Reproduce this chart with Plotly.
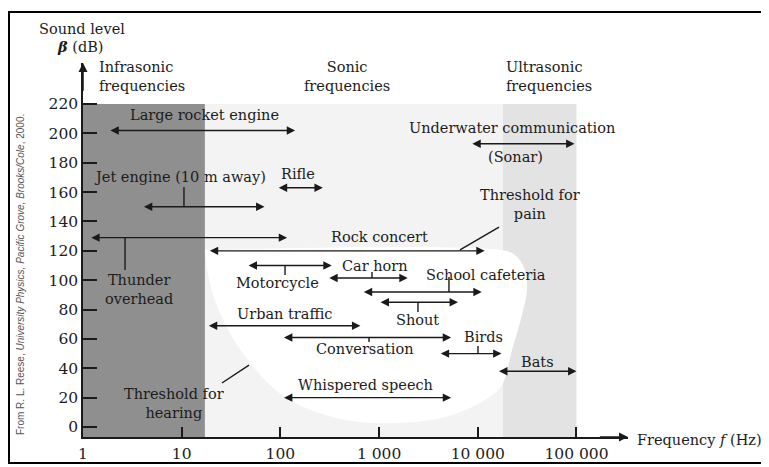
import numpy as np
import plotly.graph_objects as go

# ---------------- data ----------------
sources = ["Large rocket engine", "Jet engine (10 m away)", "Rifle", "Thunder overhead",
           "Rock concert", "Motorcycle", "Car horn", "School cafeteria", "Shout",
           "Urban traffic", "Conversation", "Birds", "Bats", "Whispered speech",
           "Underwater communication (Sonar)"]
f_low = [1.83, 4.0, 93, 1.17, 18.6, 46, 302, 676, 1000, 18.2, 105, 4070, 15850, 105, 8500]
f_high = [141, 69, 269, 117, 11750, 331, 1950, 10960, 6300, 646, 5370, 17400, 100000, 5370, 95500]
level_db = [202, 150, 163, 129, 120, 110, 101.5, 92, 85, 69, 61, 50, 38, 20, 193]

# frequency bands (Hz)
infrasonic_max = 17.2
sonic_max = 18000
ultrasonic_max = 100000
band_top_db = 220

# region of audible sound (threshold of hearing / threshold of pain)
hearing_f = [17.2, 19.0, 23.5, 32, 47, 78.5, 140.6, 451, 1449, 4656, 11830, 17580, 22230,
             28050, 31480, 30060, 23820, 16790, 17.2]
hearing_db = [119.2, 100, 80, 62, 45.6, 28.6, 16.3, 4.8, 2.7, 6.8, 18.4, 28.6, 52.5,
              76.3, 93.3, 107, 117.2, 120.6, 120.6]

x_tick_vals = [1, 10, 100, 1000, 10000, 100000]
x_tick_text = ["1", "10", "100", "1 000", "10 000", "100 000"]
y_tick_vals = list(range(0, 221, 20))

# ---------------- styling ----------------
FONT = "DejaVu Serif"
TXT = "#1c1c1c"
LINE = "#1a1a1a"
FS = 14.5
TFS = 15.5

lg = np.log10
XMAX = 5.522
YMIN, YMAX = -6.81, 247.96

fig = go.Figure()

# audible region (white blob)
fig.add_trace(go.Scatter(x=lg(hearing_f), y=hearing_db, mode="lines", fill="toself",
                         fillcolor="white", line=dict(width=0, color="white", shape="spline"),
                         hoverinfo="skip", showlegend=False))

shapes = []
# band backgrounds
shapes.append(dict(type="rect", xref="x", yref="y", x0=0, x1=lg(infrasonic_max), y0=YMIN,
                   y1=band_top_db, fillcolor="#8f8f8f", line=dict(width=0), layer="below"))
shapes.append(dict(type="rect", xref="x", yref="y", x0=lg(infrasonic_max), x1=lg(sonic_max),
                   y0=YMIN, y1=band_top_db, fillcolor="#f3f3f3", line=dict(width=0), layer="below"))
shapes.append(dict(type="rect", xref="x", yref="y", x0=lg(sonic_max), x1=lg(ultrasonic_max),
                   y0=YMIN, y1=band_top_db, fillcolor="#e3e3e3", line=dict(width=0), layer="below"))

# small connector lines from labels to arrows (log f, dB)
connectors = [
    (1.023, 163.5, 1.023, 150),   # jet
    (0.426, 128.7, 0.426, 107),   # thunder
    (2.047, 110, 2.047, 103.5),   # motorcycle
    (2.928, 101.5, 2.928, 105.6), # car horn
    (3.708, 92, 3.708, 102.2),    # school
    (3.394, 85, 3.394, 78.3),     # shout
    (2.898, 61, 2.898, 57.9),     # conversation
    (4.002, 50, 4.002, 55.2),     # birds
    (3.820, 120.6, 4.215, 136.2), # threshold of pain pointer
    (1.408, 30.0, 1.682, 42.2),   # threshold of hearing pointer
]
for x0, y0, x1, y1 in connectors:
    shapes.append(dict(type="line", xref="x", yref="y", x0=x0, y0=y0, x1=x1, y1=y1,
                       line=dict(color=LINE, width=1.4)))

# outer frame
shapes.append(dict(type="rect", xref="paper", yref="paper", x0=-0.1358, x1=1.2495,
                   y0=-0.0695, y1=1.1364, line=dict(color="black", width=2),
                   fillcolor="rgba(0,0,0,0)"))

annotations = []
# double-headed arrows for the sources
for lo, hi, db in zip(f_low, f_high, level_db):
    annotations.append(dict(x=lg(hi), y=db, ax=lg(lo), ay=db, xref="x", yref="y",
                            axref="x", ayref="y", text="", showarrow=True,
                            arrowside="end+start", arrowhead=2, arrowsize=1.2,
                            arrowwidth=1.4, arrowcolor=LINE, standoff=0, startstandoff=0))

# axis arrowheads
annotations.append(dict(x=XMAX, y=YMIN, ax=XMAX - 0.3, ay=YMIN, xref="x", yref="y",
                        axref="x", ayref="y", text="", showarrow=True, arrowhead=2,
                        arrowsize=1.2, arrowwidth=1.5, arrowcolor=LINE))
annotations.append(dict(x=0, y=YMAX, ax=0, ay=YMAX - 20, xref="x", yref="y",
                        axref="x", ayref="y", text="", showarrow=True, arrowhead=2,
                        arrowsize=1.2, arrowwidth=1.5, arrowcolor=LINE))

def label(text, x, y, xanchor="center", align="center", size=FS):
    annotations.append(dict(x=x, y=y, xref="x", yref="y", text=text, showarrow=False,
                            xanchor=xanchor, yanchor="middle", align=align,
                            font=dict(family=FONT, size=size, color=TXT)))

label("Large rocket engine", 1.236, 212.5)
label("Jet engine (10 m away)", 0.983, 170.3)
label("Rifle", 2.178, 172.3)
label("Thunder<br>overhead", 0.567, 94)
label("Rock concert", 3.009, 129.4)
label("Threshold for<br>pain", 4.529, 151.9)
label("Motorcycle", 1.966, 98.1)
label("Car horn", 2.958, 109.7)
label("School cafeteria", 4.083, 103.5)
label("Shout", 3.394, 72.9)
label("Urban traffic", 2.047, 77)
label("Conversation", 2.857, 53.1)
label("Birds", 4.053, 61.3)
label("Bats", 4.610, 44.3)
label("Whispered speech", 2.867, 28.6)
label("Underwater communication", 4.347, 203.7)
label("(Sonar)", 4.387, 183.9)
label("Threshold for<br>hearing", 0.922, 15.7)
label("Infrasonic<br>frequencies", 0.142, 239, xanchor="left", align="left")
label("Sonic<br>frequencies", 2.675, 239)
label("Ultrasonic<br>frequencies", 4.266, 239, xanchor="left", align="left")

# axis titles
annotations.append(dict(x=-0.002, y=1.091, xref="paper", yref="paper", text="Sound level",
                        showarrow=False, xanchor="center", yanchor="middle",
                        font=dict(family=FONT, size=FS, color=TXT)))
annotations.append(dict(x=-0.005, y=1.043, xref="paper", yref="paper",
                        text="<b><i>β</i></b> (dB)", showarrow=False, xanchor="center",
                        yanchor="middle", font=dict(family=FONT, size=FS, color=TXT)))
annotations.append(dict(x=(635 - 83) / 545, y=(437 - 440) / 374, xref="paper", yref="paper",
                        text="Frequency <i>f</i> (Hz)", showarrow=False, xanchor="left",
                        yanchor="middle", font=dict(family=FONT, size=FS, color=TXT)))
# source credit
annotations.append(dict(x=(20 - 83) / 545, y=(437 - 275) / 374, xref="paper", yref="paper",
                        text="From R. L. Reese, <i>University Physics, Pacific Grove, Brooks/Cole</i>, 2000.",
                        showarrow=False, textangle=-90, xanchor="center", yanchor="middle",
                        font=dict(family="Liberation Sans Narrow, Liberation Sans", size=10,
                                  color="#555")))

# the page adds an 8 px body margin, so the figure is 8 px smaller on each side
fig.update_layout(
    width=761, height=459,
    margin=dict(l=75, r=141, t=55, b=30, autoexpand=False),
    plot_bgcolor="white", paper_bgcolor="white",
    showlegend=False,
    shapes=shapes, annotations=annotations,
    xaxis=dict(range=[0, XMAX], showgrid=False, zeroline=False, showline=True,
               automargin=False,
               linecolor=LINE, linewidth=1.5, ticks="inside", ticklen=10, tickwidth=1.5,
               tickcolor=LINE, tickvals=list(lg(x_tick_vals)), ticktext=x_tick_text,
               ticklabelstandoff=2,
               tickfont=dict(family=FONT, size=TFS, color=TXT), fixedrange=True),
    yaxis=dict(range=[YMIN, YMAX], showgrid=False, zeroline=False, showline=True,
               automargin=False,
               linecolor=LINE, linewidth=1.5, ticks="inside", ticklen=14, tickwidth=1.5,
               tickcolor=LINE, tickvals=y_tick_vals,
               tickfont=dict(family=FONT, size=TFS, color=TXT), fixedrange=True),
)

fig.write_html("out.html")
